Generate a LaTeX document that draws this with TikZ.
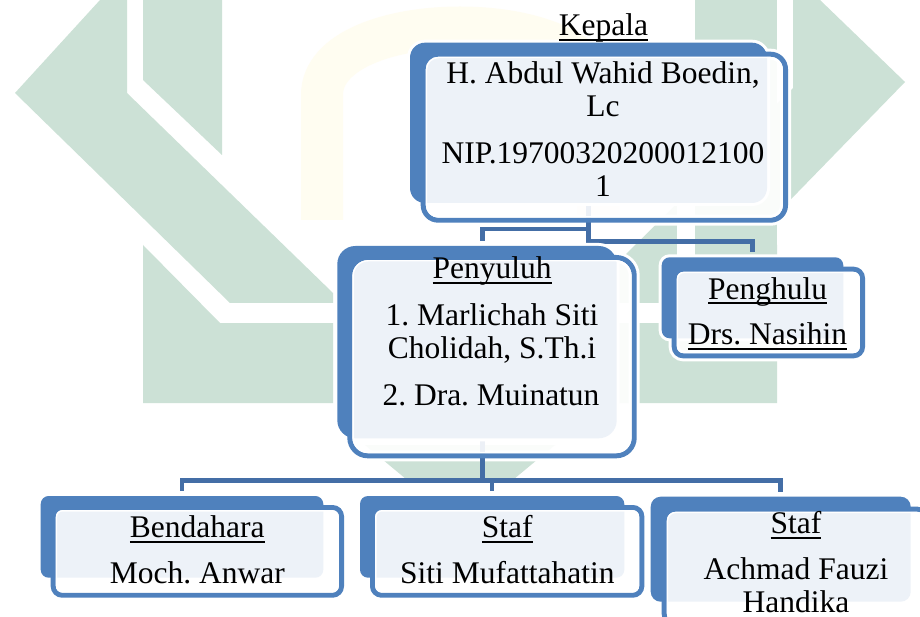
\documentclass[tikz,border=0pt]{standalone}
\usepackage{fontspec}
\setmainfont{Liberation Serif}
\frenchspacing
\usetikzlibrary{calc}
\definecolor{boxblue}{RGB}{79,129,189}
\definecolor{connblue}{RGB}{68,110,166}
\definecolor{wmgreen}{RGB}{204,225,214}
\definecolor{wmyellow}{RGB}{255,253,241}
\pgfdeclarelayer{wm}
\pgfdeclarelayer{halo}
\pgfdeclarelayer{conn}
\pgfsetlayers{wm,halo,conn,main}
\newsavebox\ulbox
\newcommand\ulin[1]{\sbox\ulbox{#1}\rlap{\rule[-5.4pt]{\wd\ulbox}{1.9pt}}\usebox\ulbox}
\begin{document}
\begin{tikzpicture}[x=1pt,y=-1pt,
  backbox/.style={rectangle, fill=boxblue, preaction={draw=white, line width=6pt}, inner sep=0pt, outer sep=0pt},
  frontbox/.style={rectangle, fill=white, fill opacity=0.9, draw=boxblue, line width=5pt, inner sep=0pt, outer sep=0pt},
  innerw/.style={draw=white, line width=1.4pt},
  haloline/.style={draw=white, line width=11pt},
  connline/.style={draw=connblue, line width=4.6pt, shorten >=5pt},
  txt/.style={font=\fontsize{31.5}{33.3}\selectfont, inner sep=0pt, anchor=base, text=black},
  wmshape/.style={fill=wmgreen, draw=none}]

\useasboundingbox (0,0) rectangle (920,617);

% watermark
\begin{pgfonlayer}{wm}
\fill[white] (0,0) rectangle (920,617);
\draw[wmyellow, line width=42pt] (322,220) -- (322,95) .. controls (322,5) and (598,5) .. (598,95) -- (598,220);
\fill[wmshape] (100,0) -- (127,0) -- (127,93) -- (333,293) -- (333,303) -- (230,303) -- (15,93) -- cycle;
\fill[wmshape] (143,0) -- (222,0) -- (222,155) -- (143,80) -- cycle;
\fill[wmshape] (143,245) -- (220,323) -- (333,323) -- (333,403) -- (143,403) -- cycle;
\fill[wmshape] (820,0) -- (793,0) -- (793,88) -- (587,293) -- (587,303) -- (690,303) -- (905,82) -- cycle;
\fill[wmshape] (695,0) -- (777,0) -- (777,403) -- (695,403) -- cycle;
\fill[white] (677,160) -- (695,160) -- (695,323) -- (677,323) -- cycle;
\fill[wmshape] (777,245) -- (700,323) -- (587,323) -- (587,403) -- (777,403) -- cycle;
\fill[wmshape] (365,445) -- (555,445) -- (514,479) -- (406,479) -- cycle;
\end{pgfonlayer}

% Kepala
\node[backbox, rounded corners=15pt, minimum width=357pt, minimum height=160.3pt] (kb) at (588.5,122.85) {};
\node[frontbox, rounded corners=15pt, minimum width=362.3pt, minimum height=166pt] (kf) at (604.35,137.2) {};
\draw[innerw, rounded corners=12pt] ([shift={(3.3,3.3)}]kf.north west) rectangle ([shift={(-3.3,-3.3)}]kf.south east);

% Penyuluh
\node[backbox, rounded corners=18pt, minimum width=279.4pt, minimum height=192.3pt] (pb) at (477,342.15) {};
\node[frontbox, rounded corners=18pt, minimum width=284.4pt, minimum height=198.3pt] (pf) at (492,356.65) {};
\draw[innerw, rounded corners=15pt] ([shift={(3.3,3.3)}]pf.north west) rectangle ([shift={(-3.3,-3.3)}]pf.south east);

% Penghulu
\node[backbox, rounded corners=8pt, minimum width=181.6pt, minimum height=81pt] (hb) at (752.5,297.8) {};
\node[frontbox, rounded corners=9pt, minimum width=188.3pt, minimum height=86.6pt] (hf) at (768.35,312.5) {};
\draw[innerw, rounded corners=6pt] ([shift={(3.3,3.3)}]hf.north west) rectangle ([shift={(-3.3,-3.3)}]hf.south east);

% Bendahara
\node[backbox, rounded corners=8pt, minimum width=282.6pt, minimum height=81.7pt] (bb) at (182,536.85) {};
\node[frontbox, rounded corners=9pt, minimum width=288.3pt, minimum height=87.7pt] (bf) at (197.35,551.35) {};
\draw[innerw, rounded corners=6pt] ([shift={(3.3,3.3)}]bf.north west) rectangle ([shift={(-3.3,-3.3)}]bf.south east);

% Staf (Siti)
\node[backbox, rounded corners=8pt, minimum width=264.3pt, minimum height=81.7pt] (sb) at (492.15,536.85) {};
\node[frontbox, rounded corners=9pt, minimum width=269.3pt, minimum height=87.7pt] (sf) at (507.15,551.35) {};
\draw[innerw, rounded corners=6pt] ([shift={(3.3,3.3)}]sf.north west) rectangle ([shift={(-3.3,-3.3)}]sf.south east);

% Staf (Achmad)
\node[backbox, rounded corners=10pt, minimum width=260pt, minimum height=105pt] (ab) at (780.7,549.2) {};
\node[frontbox, rounded corners=11pt, minimum width=264.3pt, minimum height=115.8pt] (af) at (796.35,567.1) {};
\draw[innerw, rounded corners=8pt] ([shift={(3.3,3.3)}]af.north west) rectangle ([shift={(-3.3,-3.3)}]af.south east);

% halos of front boxes
\begin{pgfonlayer}{halo}
\draw[haloline, rounded corners=15pt] (kf.north west) rectangle (kf.south east);
\draw[haloline, rounded corners=18pt] (pf.north west) rectangle (pf.south east);
\draw[haloline, rounded corners=9pt] (hf.north west) rectangle (hf.south east);
\draw[haloline, rounded corners=9pt] (bf.north west) rectangle (bf.south east);
\draw[haloline, rounded corners=9pt] (sf.north west) rectangle (sf.south east);
\draw[haloline, rounded corners=11pt] (af.north west) rectangle (af.south east);
\end{pgfonlayer}

% connectors
\begin{pgfonlayer}{conn}
\coordinate (j1) at (588.5,229.2);
\coordinate (j2) at (588.5,241.7);
\coordinate (j3) at (482.2,480.5);
\draw[connline] (kb.south) -- (j1) -| ([xshift=5.5pt]pb.north);
\draw[connline] (kb.south) -- (j2) -| (hb.north);
\draw[connline] ([xshift=5.2pt]pb.south) -- (j3) -| (bb.north);
\draw[connline] ([xshift=5.2pt]pb.south) -- (j3) -| (sb.north);
\draw[connline] ([xshift=5.2pt]pb.south) -- (j3) -| (ab.north);
\end{pgfonlayer}

% texts
\node[txt] (klab) at (603.5,36) {\ulin{Kepala}};
\node[txt] (k1) at (603,83.3) {H. Abdul Wahid Boedin,};
\node[txt] (k2) at (603,116.7) {Lc};
\node[txt] (k3) at (603,163.3) {NIP.19700320200012100};
\node[txt] (k4) at (603,196.7) {1};

\node[txt] (p0) at (492,278.3) {\ulin{Penyuluh}};
\node[txt] (p1) at (492,325) {1. Marlichah Siti};
\node[txt] (p2) at (492,358.3) {Cholidah, S.Th.i};
\node[txt] (p3) at (491,405) {2. Dra. Muinatun};

\node[txt] (h1) at (767.5,299) {\ulin{Penghulu}};
\node[txt] (h2) at (767.5,344.5) {\ulin{Drs. Nasihin}};

\node[txt] (b1) at (197.3,537.3) {\ulin{Bendahara}};
\node[txt] (b2) at (197.3,583.3) {Moch. Anwar};

\node[txt] (s1) at (507.3,537.3) {\ulin{Staf}};
\node[txt] (s2) at (507.3,583.3) {Siti Mufattahatin};

\node[txt] (a1) at (796,533.3) {\ulin{Staf}};
\node[txt] (a2) at (796,579) {Achmad Fauzi};
\node[txt] (a3) at (796,612) {Handika};
\end{tikzpicture}
\end{document}
